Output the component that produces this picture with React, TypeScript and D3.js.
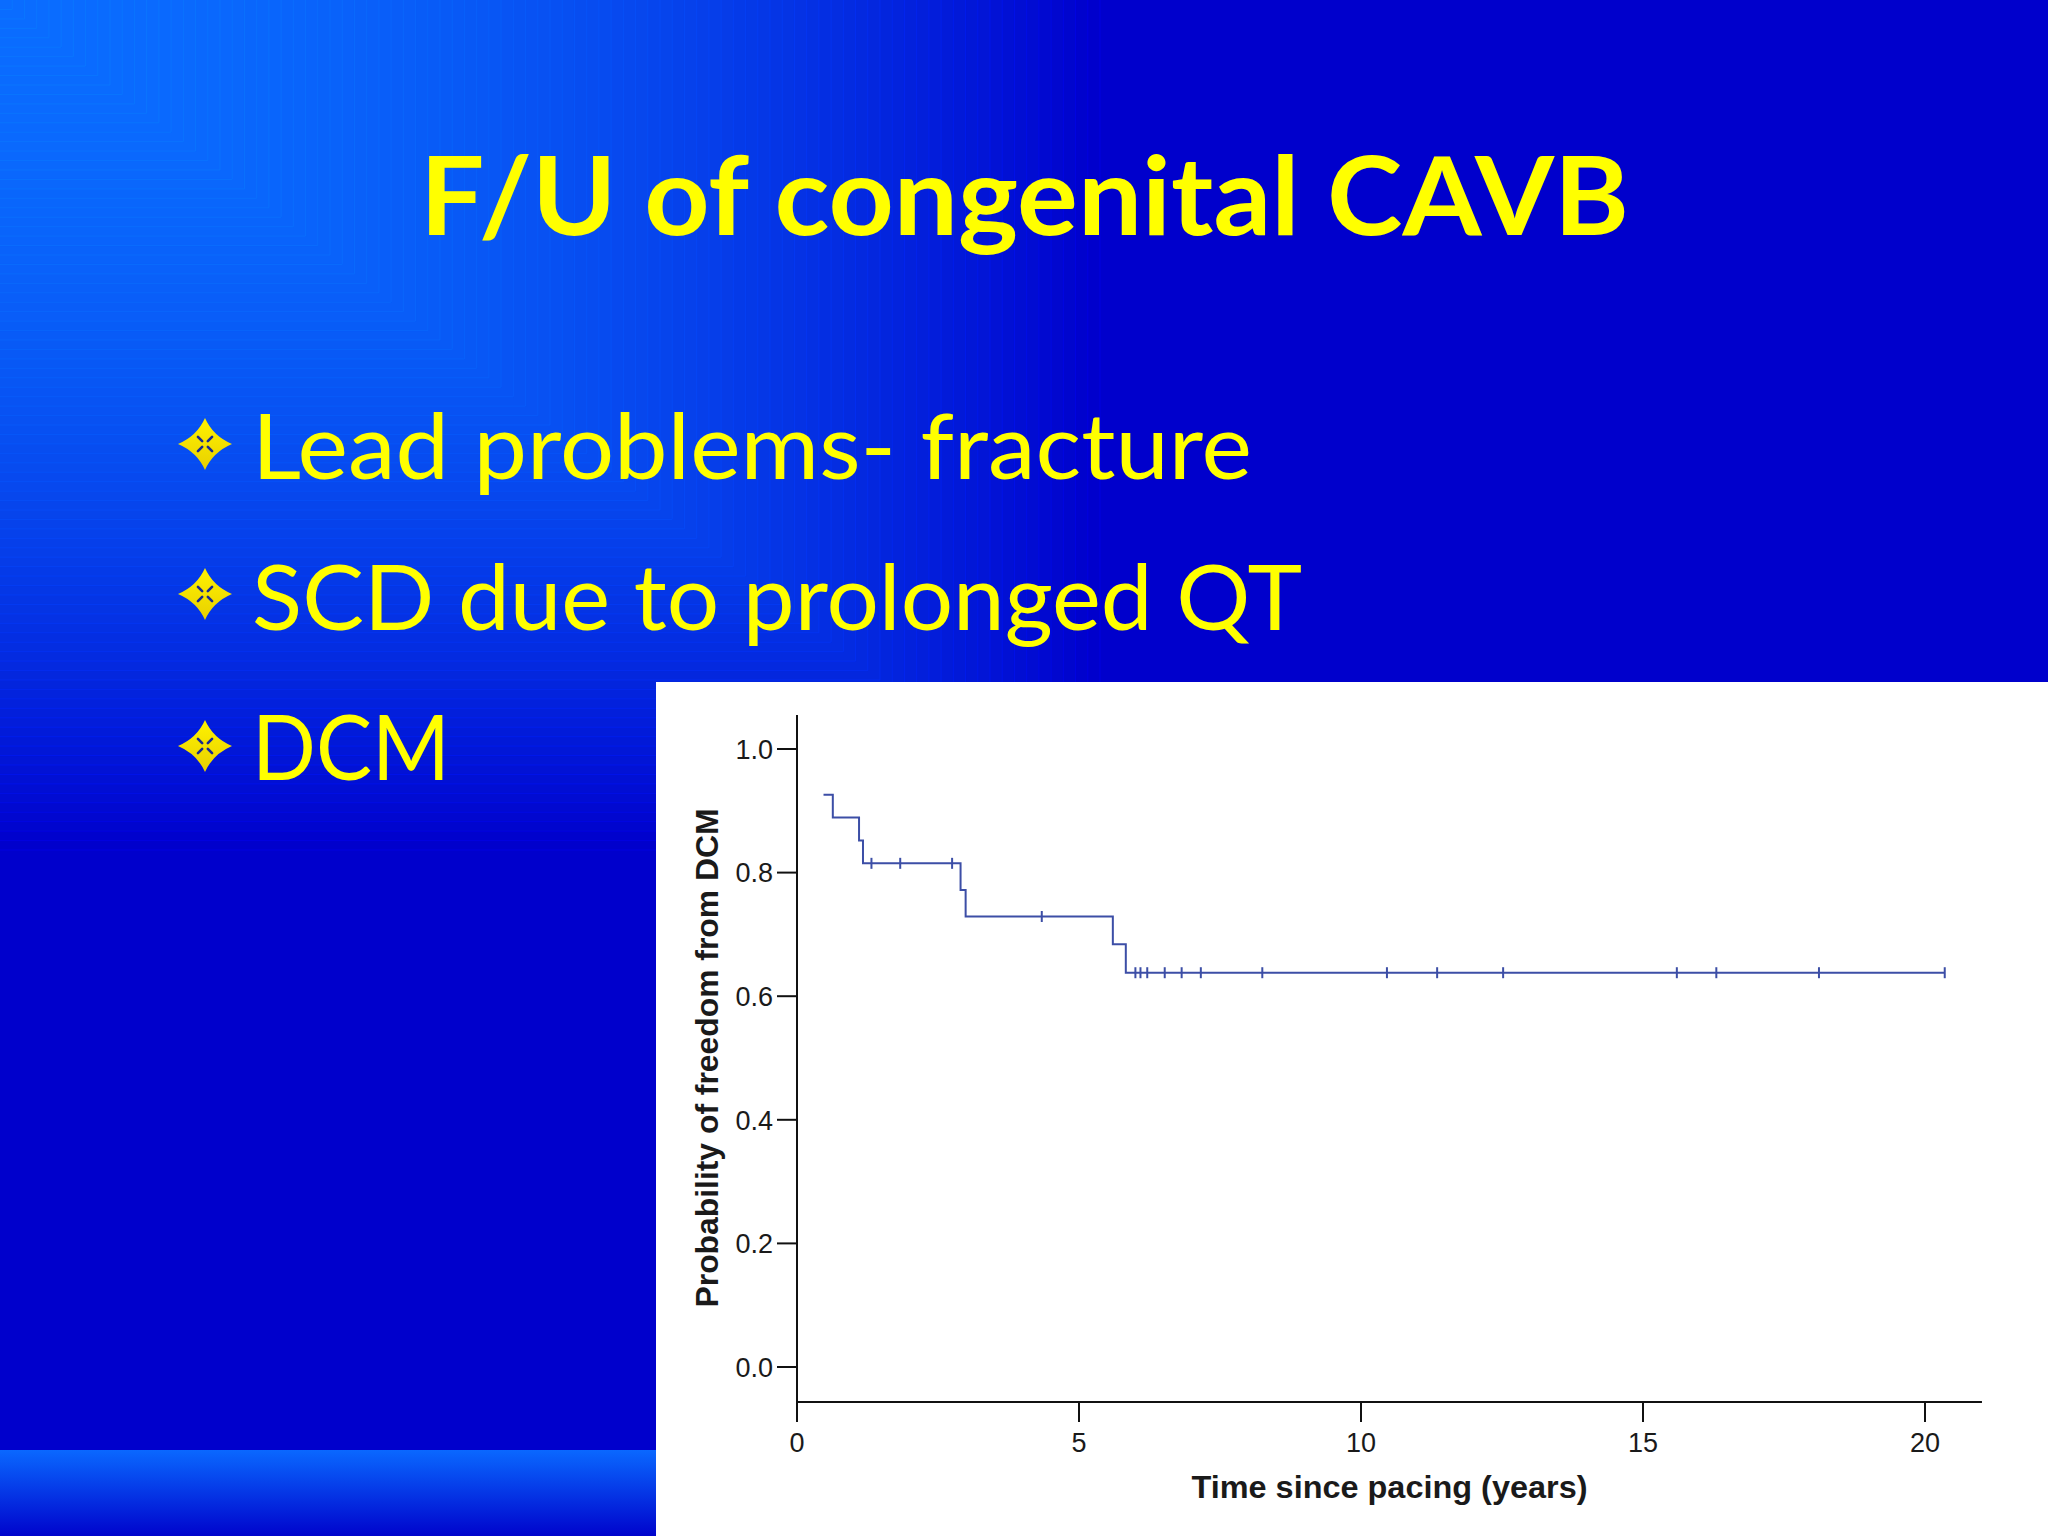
import React from "react";
import * as d3 from "d3";

// ---- Slide text ----
const titleText = "F/U of congenital CAVB";
const bulletItems = ["Lead problems- fracture", "SCD due to prolonged QT", "DCM"];
const bulletLengths = [1000, 1050, 198];

// ---- Kaplan-Meier data ----
const stepTimes = [0.47, 0.635, 1.1, 1.17, 2.9, 2.99, 5.6, 5.83, 20.35];
const stepSurvival = [0.926, 0.889, 0.852, 0.815, 0.772, 0.729, 0.684, 0.638, 0.638];
const censorTimes = [1.32, 1.83, 2.75, 4.34, 6.0, 6.09, 6.21, 6.52, 6.82, 7.16, 8.25, 10.46, 11.35, 12.52, 15.6, 16.3, 18.12, 20.35];
const xTicks = [0, 5, 10, 15, 20];
const yTicks = [0, 0.2, 0.4, 0.6, 0.8, 1.0];
const xTitle = "Time since pacing (years)";
const yTitle = "Probability of freedom from DCM";

const W = 2048;
const H = 1536;
const DARK = "#0000cc";
const LIGHT = "#0a6cff";

export default function App() {
  const x = d3.scaleLinear().domain([0, 20]).range([797, 1925]);
  const y = d3.scaleLinear().domain([0, 1]).range([1367, 749]);
  const axisX0 = x(0);
  const axisXEnd = x(21.01);
  const axisY = y(-0.0566);
  const axisYTop = y(1.055);

  const pts: [number, number][] = stepTimes.map((t, i) => [t, stepSurvival[i]]);
  const line = d3
    .line<[number, number]>()
    .x((d) => x(d[0]))
    .y((d) => y(d[1]))
    .curve(d3.curveStepAfter);

  const survAt = (t: number) => {
    const i = d3.bisectRight(stepTimes, t) - 1;
    return stepSurvival[Math.max(0, i)];
  };

  // background rectangular gradient from the top-left corner
  const N = 90;
  const bands = d3.range(N).map((i) => {
    const f = 1 - i / N;
    return { w: 1100 * f, h: 850 * f, c: d3.interpolateRgb(LIGHT, DARK)(Math.pow(f, 2)) };
  });

  const diamond = "M0,-26 Q8,-8 27,0 Q8,8 0,26 Q-8,8 -27,0 Q-8,-8 0,-26 Z";
  const bulletY = [479, 630, 780];
  const bulletCY = [444, 594, 746];

  return (
    <svg
      width={W}
      height={H}
      viewBox={`0 0 ${W} ${H}`}
      style={{ position: "absolute", left: 0, top: 0, display: "block" }}
    >
      <defs>
        <linearGradient id="band" x1="0" y1="0" x2="0" y2="1">
          <stop offset="0" stopColor="#0a68ff" />
          <stop offset="1" stopColor="#0004cc" />
        </linearGradient>
        <linearGradient id="dia" x1="0" y1="0" x2="0" y2="1">
          <stop offset="0" stopColor="#fff200" />
          <stop offset="1" stopColor="#e8d000" />
        </linearGradient>
      </defs>
      <rect x={0} y={0} width={W} height={H} fill={DARK} />
      {bands.map((b, i) => (
        <g key={i}>
          <rect x={0} y={0} width={b.w} height={b.h} fill={b.c} />
          <path
            d={`M0,${b.h} H${b.w} V0`}
            fill="none"
            stroke={d3.color(b.c)!.brighter(0.5).formatHex()}
            strokeWidth={1}
            opacity={0.5}
          />
        </g>
      ))}
      <rect x={0} y={1450} width={656} height={86} fill="url(#band)" />

      {/* Title */}
      <text
        x={420}
        y={235}
        fill="#ffff00"
        fontFamily="Lato, 'Open Sans', sans-serif"
        fontWeight={700}
        fontSize={110}
        textLength={1209}
        lengthAdjust="spacingAndGlyphs"
      >
        {titleText}
      </text>

      {/* Bullets */}
      {bulletItems.map((t, i) => (
        <g key={t}>
          <g transform={`translate(205,${bulletCY[i]})`}>
            <path d={diamond} fill="url(#dia)" />
            {[45, 135, 225, 315].map((a) => (
              <line
                key={a}
                x1={0}
                y1={-4}
                x2={0}
                y2={-10}
                transform={`rotate(${a})`}
                stroke="#1a2a90"
                strokeWidth={2.6}
                strokeLinecap="round"
              />
            ))}
          </g>
          <text
            x={252}
            y={bulletY[i]}
            fill="#ffff00"
            fontFamily="Lato, 'Open Sans', sans-serif"
            fontSize={91}
            textLength={bulletLengths[i]}
            lengthAdjust="spacingAndGlyphs"
          >
            {t}
          </text>
        </g>
      ))}

      {/* Chart panel */}
      <rect x={656} y={682} width={W - 656} height={H - 682} fill="#ffffff" />

      <g fontFamily="'Liberation Sans', Arial, sans-serif" fill="#1a1a1a">
        {/* axes */}
        <line x1={axisX0} y1={axisYTop} x2={axisX0} y2={axisY} stroke="#111" strokeWidth={2} />
        <line x1={axisX0} y1={axisY} x2={axisXEnd} y2={axisY} stroke="#111" strokeWidth={2} />
        {yTicks.map((v) => (
          <g key={v}>
            <line x1={axisX0 - 20} x2={axisX0} y1={y(v)} y2={y(v)} stroke="#111" strokeWidth={2} />
            <text x={773} y={y(v)} dy="0.36em" textAnchor="end" fontSize={27}>
              {v.toFixed(1)}
            </text>
          </g>
        ))}
        {xTicks.map((v) => (
          <g key={v}>
            <line x1={x(v)} x2={x(v)} y1={axisY} y2={axisY + 20} stroke="#111" strokeWidth={2} />
            <text x={x(v)} y={1452} textAnchor="middle" fontSize={27}>
              {v}
            </text>
          </g>
        ))}
        <text x={(axisX0 + axisXEnd) / 2} y={1498} textAnchor="middle" fontSize={32} fontWeight={700} textLength={396} lengthAdjust="spacingAndGlyphs">
          {xTitle}
        </text>
        <text
          transform={`translate(718,${(y(0) + y(1)) / 2}) rotate(-90)`}
          textAnchor="middle"
          fontSize={32}
          fontWeight={700}
          textLength={499}
          lengthAdjust="spacingAndGlyphs"
        >
          {yTitle}
        </text>

        {/* KM curve */}
        <path d={line(pts) || ""} fill="none" stroke="#3c4ea6" strokeWidth={2} />
        {censorTimes.map((t, i) => (
          <line
            key={i}
            x1={x(t)}
            x2={x(t)}
            y1={y(survAt(t)) - 5.5}
            y2={y(survAt(t)) + 5.5}
            stroke="#3c4ea6"
            strokeWidth={2}
          />
        ))}
      </g>
    </svg>
  );
}
